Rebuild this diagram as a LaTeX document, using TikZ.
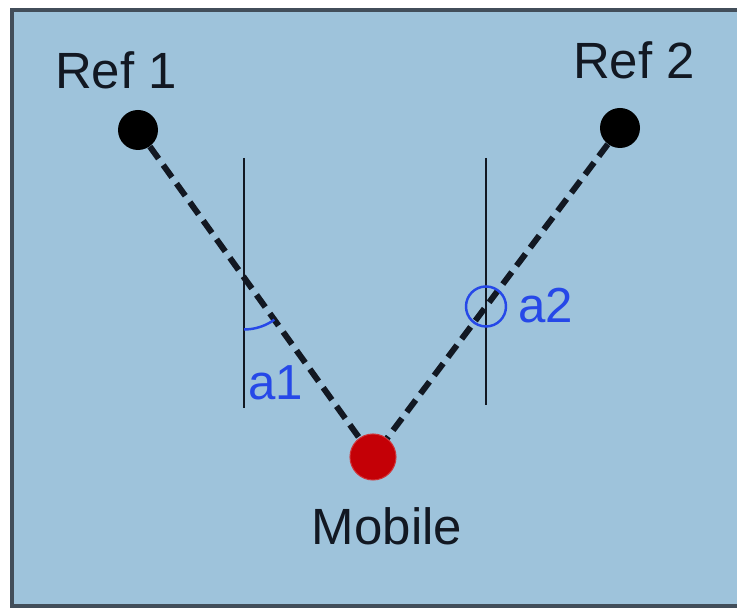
\documentclass[tikz,border=0pt]{standalone}
\usepackage{fontspec}
\setmainfont{Liberation Sans}
\usetikzlibrary{intersections}
\definecolor{panelbg}{RGB}{158,195,219}
\definecolor{panelframe}{RGB}{66,78,90}
\definecolor{anglecol}{RGB}{38,72,232}
\definecolor{mobred}{RGB}{196,0,6}
\definecolor{inkcol}{RGB}{18,24,34}
\tikzset{
  refdot/.style={circle,fill=black,inner sep=0pt,minimum size=0.8cm},
  mobdot/.style={circle,fill=mobred,draw=mobred!80!white,line width=0.6pt,inner sep=0pt,minimum size=0.92cm},
  lbl/.style={text=inkcol,inner sep=0pt,font=\fontsize{29}{34}\selectfont},
  anglelbl/.style={text=anglecol,inner sep=0pt,anchor=base west,font=\fontsize{28}{33}\selectfont},
  ray/.style={line width=3.4pt,dash pattern=on 8.5pt off 4.5pt,inkcol},
  normal/.style={line width=1.5pt,inkcol}
}
\begin{document}
\begin{tikzpicture}
\clip (0,0) rectangle (14.74,12.16);
% panel
\draw[fill=panelbg,draw=panelframe,line width=2.2pt] (0.24,11.96) rectangle (15.2,0.04);
% points
\node[refdot] (r1) at (2.76,9.56) {};
\node[refdot] (r2) at (12.4,9.6) {};
\node[mobdot] (mob) at (7.46,3.02) {};
\node[lbl,anchor=base] (r1lbl) at (2.32,10.38) {Ref 1};
\node[lbl,anchor=base] (r2lbl) at (12.68,10.58) {Ref 2};
\node[lbl,anchor=base] (moblbl) at (7.74,1.26) {Mobile};
% normals
\coordinate (n1top) at (4.88,9.0);
\coordinate (n1bot) at (4.88,4.0);
\coordinate (n2top) at (9.72,9.0);
\coordinate (n2bot) at (9.72,4.06);
\draw[normal,name path=n1] (n1top) -- (n1bot);
\draw[normal,name path=n2] (n2top) -- (n2bot);
% rays
\draw[ray,name path=ray1] (r1) -- (mob);
\draw[ray,name path=ray2] (r2) -- (mob);
\path[name intersections={of=n1 and ray1,by=x1}];
\path[name intersections={of=n2 and ray2,by=x2}];
% angles
\draw[anglecol,line width=1.4pt] (x1) ++(270:1.04) arc (270:305.7:1.04);
\draw[anglecol,line width=1.4pt] (x2) circle (0.4);
\node[anglelbl] (a1) at (4.96,4.16) {a1};
\node[anglelbl] (a2) at (10.36,5.7) {a2};
\end{tikzpicture}
\end{document}
